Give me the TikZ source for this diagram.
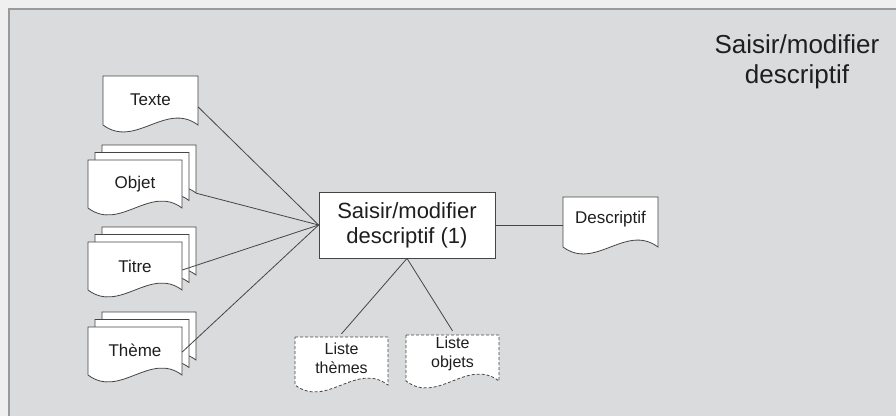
\documentclass[tikz,border=0pt]{standalone}
\usepackage{fontspec}
\setmainfont{Liberation Sans}
\definecolor{panel}{HTML}{DADBDC}
\definecolor{paper}{HTML}{EFEFEF}
\definecolor{ink}{HTML}{454545}
\definecolor{frame}{HTML}{9A9A9A}
\definecolor{type}{HTML}{1E1E1E}

% a document sheet with a wavy lower edge: top-left corner (x,y), width, height
\newcommand{\sheet}[5][]{%
  \path[sheetline,#1] (#2,#3) -- (#2+#4,#3) -- (#2+#4,#3+#5)
    .. controls (#2+0.66*#4,#3+#5-24) and (#2+0.34*#4,#3+#5+24) .. (#2,#3+#5) -- cycle;}

\tikzset{
  sheetline/.style={draw=ink, fill=white, line width=0.8pt},
  doctext/.style={inner sep=0pt, align=center, font=\fontsize{17}{19}\selectfont, text=type},
  listtext/.style={inner sep=0pt, align=center, font=\fontsize{16}{19}\selectfont, text=type},
  linkline/.style={draw=ink, line width=0.8pt},
  procbox/.style={draw=ink, fill=white, line width=0.8pt, minimum width=176pt, minimum height=66pt,
    inner sep=0pt, align=center, font=\fontsize{22}{25}\selectfont, text=type},
}

\begin{document}
\begin{tikzpicture}[x=1pt, y=-1pt]
  \useasboundingbox (0,0) rectangle (896,416);
  % page and panel
  \fill[paper] (0,0) rectangle (896,416);
  \fill[panel] (9,9) rectangle (896,416);
  \draw[frame, line width=1.2pt] (9,416) -- (9,9) -- (896,9);

  % title
  \node[inner sep=0pt, align=center, font=\fontsize{26}{30}\selectfont, text=type]
    (title) at (797,62) {Saisir/modifier\\descriptif};

  % single input document
  \sheet{103}{76}{95}{49}
  \node[doctext, minimum width=95pt, minimum height=49pt] (texte) at (150.5,100) {Texte};

  % stacked input documents
  \sheet{102}{145}{94}{48}
  \node[inner sep=0pt, minimum width=94pt, minimum height=48pt] (objetB) at (149,169) {};
  \sheet{95}{152.5}{94}{48}
  \sheet{88}{160}{94}{48}
  \node[doctext, minimum width=94pt, minimum height=48pt] (objet) at (135,184) {Objet};

  \sheet{102}{227}{94}{48}
  \sheet{95}{234.5}{94}{48}
  \sheet{88}{242}{94}{48}
  \node[doctext, minimum width=94pt, minimum height=48pt] (titre) at (135,266) {Titre};

  \sheet{102}{312}{94}{48}
  \sheet{95}{319.5}{94}{48}
  \sheet{88}{327}{94}{48}
  \node[doctext, minimum width=94pt, minimum height=48pt] (theme) at (135,350) {Thème};

  % process
  \node[procbox] (proc) at (407,225) {Saisir/modifier\\descriptif (1)};

  % output document
  \sheet{563}{197}{95}{50}
  \node[doctext, minimum width=95pt, minimum height=50pt] (desc) at (610.5,219) {Descriptif};

  % reference lists
  \sheet[dashed, dash pattern=on 3pt off 2pt]{295}{337}{93}{48}
  \node[listtext, minimum width=93pt, minimum height=48pt] (lthemes) at (341.5,358) {Liste\\thèmes};
  \sheet[dashed, dash pattern=on 3pt off 2pt]{406}{335}{93}{46}
  \node[listtext, minimum width=93pt, minimum height=46pt] (lobjets) at (452.5,354) {Liste\\objets};

  % connectors
  \draw[linkline] ([yshift=-7pt]texte.east) -- (proc.west);
  \draw[linkline] (objetB.south east) -- (proc.west);
  \draw[linkline] ([yshift=-4pt]titre.east) -- (proc.west);
  \draw[linkline] ([yshift=-2pt]theme.east) -- (proc.west);
  \draw[linkline] (proc.east) -- (proc.east -| desc.west);
  \draw[linkline] (proc.south) -- (lthemes.north);
  \draw[linkline] (proc.south) -- (lobjets.north);
\end{tikzpicture}
\end{document}
